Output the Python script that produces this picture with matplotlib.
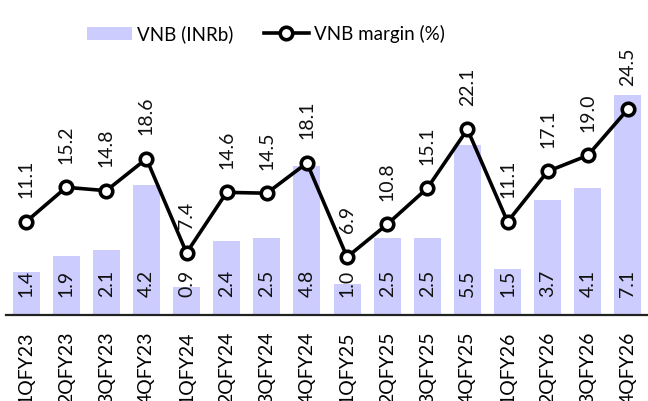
import matplotlib
matplotlib.use("Agg")
import matplotlib.pyplot as plt
import numpy as np

plt.rcParams['font.family'] = ['Lato', 'DejaVu Sans']

quarters = ['1QFY23', '2QFY23', '3QFY23', '4QFY23',
            '1QFY24', '2QFY24', '3QFY24', '4QFY24',
            '1QFY25', '2QFY25', '3QFY25', '4QFY25',
            '1QFY26', '2QFY26', '3QFY26', '4QFY26']
vnb = [1.4, 1.9, 2.1, 4.2, 0.9, 2.4, 2.5, 4.8,
       1.0, 2.5, 2.5, 5.5, 1.5, 3.7, 4.1, 7.1]
vnb_margin = [11.1, 15.2, 14.8, 18.6, 7.4, 14.6, 14.5, 18.1,
              6.9, 10.8, 15.1, 22.1, 11.1, 17.1, 19.0, 24.5]

fig = plt.figure(figsize=(6.48, 4.01), dpi=100)
ax = fig.add_axes([6 / 648, 86 / 401, 642 / 648, 315 / 401])
ax2 = ax.twinx()

x = np.arange(len(quarters))

# bars - VNB
bars = ax.bar(x, vnb, width=0.67, color='#CCCCFF', label='VNB (INRb)', zorder=1)
for xi, v in zip(x, vnb):
    ax.text(xi, 1.03, '%.1f' % v, rotation=90, ha='center', va='center',
            fontsize=14, color='#111111')

# line - margin
line, = ax2.plot(x, vnb_margin, color='black', lw=2.6, marker='o', ms=9,
                 mfc='white', mec='black', mew=2.6, label='VNB margin (%)', zorder=3)
for xi, v in zip(x, vnb_margin):
    ax2.annotate('%.1f' % v, (xi, v), xytext=(0, 17), textcoords='offset points',
                 rotation=90, ha='center', va='bottom', fontsize=14, color='#111111')

ax.set_xlim(-0.5, len(quarters) - 0.5)
ax.set_ylim(0, 315 / 31)
ax2.set_ylim(0, 315 / 8.4)

ax.set_xticks(x)
ax.set_xticklabels(quarters, rotation=90, fontsize=14)
ax.tick_params(axis='x', length=0, pad=12)
ax.set_yticks([])
ax2.set_yticks([])

for a in (ax, ax2):
    for s in ['top', 'left', 'right']:
        a.spines[s].set_visible(False)
ax2.spines['bottom'].set_visible(False)
ax.spines['bottom'].set_linewidth(1.6)
ax.spines['bottom'].set_color('#222222')

fig.legend([bars, line], ['VNB (INRb)', 'VNB margin (%)'], loc='center',
           bbox_to_anchor=(266 / 648, 1 - 34 / 401), ncol=2, frameon=False,
           fontsize=13.5, handlelength=2.4, columnspacing=1.6, handletextpad=0.3)

fig.savefig('out.png', dpi=100)
